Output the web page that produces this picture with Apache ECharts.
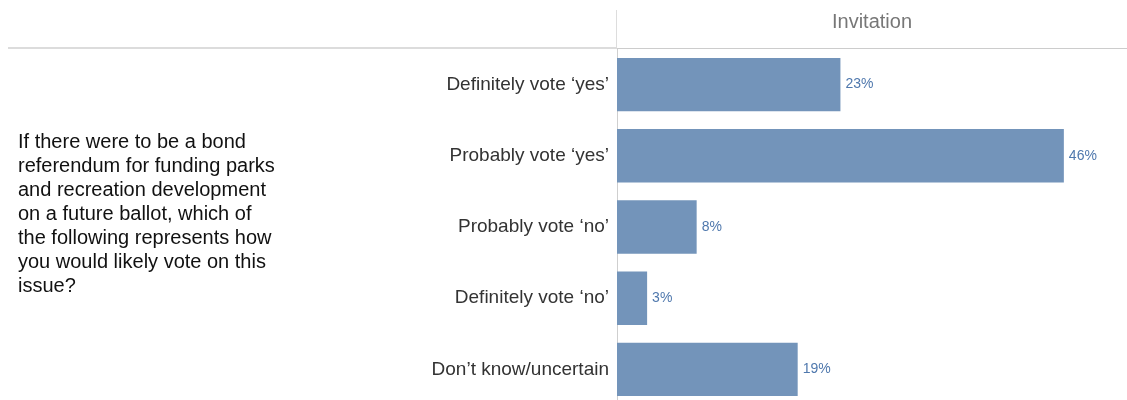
<!DOCTYPE html>
<html lang="en">
<head>
  <meta charset="UTF-8">
  <title>Invitation</title>
  <style>
    * { margin: 0; padding: 0; }
    body { background: #ffffff; overflow: hidden; }
    #chart { width: 1127px; height: 410px; }
  </style>
</head>
<body>
  <div id="chart"></div>

  <script src="https://cdn.jsdelivr.net/npm/echarts@6/dist/echarts.min.js"></script>
  <script type="text/javascript">
  var answers = ['Definitely vote \u2018yes\u2019', 'Probably vote \u2018yes\u2019', 'Probably vote \u2018no\u2019', 'Definitely vote \u2018no\u2019', 'Don\u2019t know/uncertain'];
  var shares = [23.0, 46.0, 8.2, 3.1, 18.6];
  var header = 'Invitation';
  var question = [
    'If there were to be a bond',
    'referendum for funding parks',
    'and recreation development',
    'on a future ballot, which of',
    'the following represents how',
    'you would likely vote on this',
    'issue?'
  ];

  function main () {
    var chart = echarts.init(document.getElementById('chart'));
    var option = {
      animation: false,
      textStyle: { fontFamily: 'Liberation Sans, Arial, sans-serif' },
      grid: { left: 617, right: 0, top: 49, height: 356, containLabel: false },
      xAxis: {
        type: 'value',
        min: 0,
        max: 52.5,
        show: false
      },
      yAxis: {
        type: 'category',
        data: answers,
        inverse: true,
        axisLine: { lineStyle: { color: '#cfcfcf' } },
        axisTick: { show: false },
        axisLabel: { color: '#333333', fontSize: 19, margin: 8 }
      },
      series: [{
        type: 'bar',
        data: shares,
        barCategoryGap: '25%',
        itemStyle: { color: '#7394ba' },
        label: {
          show: true,
          position: 'right',
          distance: 5,
          color: '#4f78ad',
          fontSize: 14,
          formatter: function (p) { return Math.round(p.value) + '%'; }
        }
      }],
      graphic: [
        { type: 'line', shape: { x1: 616.5, y1: 10, x2: 616.5, y2: 49 }, style: { stroke: '#dddddd', lineWidth: 1 } },
        { type: 'line', shape: { x1: 8, y1: 48, x2: 617, y2: 48 }, style: { stroke: '#dcdcdc', lineWidth: 2 } },
        { type: 'line', shape: { x1: 617, y1: 48.5, x2: 1127, y2: 48.5 }, style: { stroke: '#cccccc', lineWidth: 1 } },
        {
          type: 'text', x: 872, y: 22,
          style: { text: header, fill: '#777777', fontSize: 20, align: 'center', verticalAlign: 'middle', fontFamily: 'Liberation Sans Narrow, Liberation Sans, sans-serif' }
        },
        {
          type: 'text', x: 18, y: 130,
          style: { text: question.join('\n'), fill: '#111111', fontSize: 20, lineHeight: 24, fontFamily: 'Liberation Sans, Arial, sans-serif' }
        }
      ]
    };
    chart.setOption(option);
  }

  window.addEventListener('load', main);
  </script>
</body>
</html>
